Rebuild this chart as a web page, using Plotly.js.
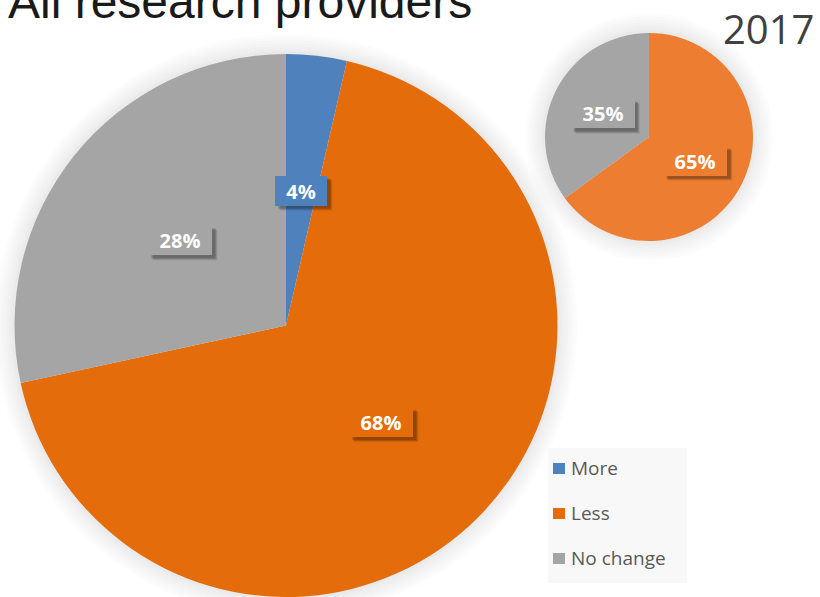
<!DOCTYPE html>
<html>
<head>
<meta charset="utf-8">
<script src="https://cdn.plot.ly/plotly-3.0.1.min.js"></script>
<style>html,body{margin:0;padding:0;background:#fff;}#chart{width:820px;height:597px;}</style>
</head>
<body>
<div id="chart"></div>
<script>
// ---- data ----
const chartTitle = "All research providers";
const insetTitle = "2017";
const allLabels = ["More", "Less", "No change"];
const allValues = [3.6, 68.0, 28.4];
const allColors = ["#4F81BD", "#E46C0A", "#A5A5A5"];
const insetLabels = ["Less", "No change"];
const insetValues = [65, 35];
const insetColors = ["#ED7D31", "#A5A5A5"];

// ---- geometry ----
const W = 820, H = 597;
const big = {x0: 14.5, x1: 557.5, y0: 54, y1: 597};
const small = {x0: 545, x1: 753, y0: 33, y1: 241};
function dom(b){ return {x:[b.x0/W, b.x1/W], y:[1-b.y1/H, 1-b.y0/H]}; }

const traces = [
  {type:'pie', labels:allLabels, values:allValues, marker:{colors:allColors, line:{width:0}},
   domain:dom(big), sort:false, direction:'clockwise', rotation:0, textinfo:'none',
   hoverinfo:'label+percent', showlegend:false},
  {type:'pie', labels:insetLabels, values:insetValues, marker:{colors:insetColors, line:{width:0}},
   domain:dom(small), sort:false, direction:'clockwise', rotation:0, textinfo:'none',
   hoverinfo:'label+percent', showlegend:false}
];

const annotations = [];
const shapes = [];
const BH = 30;
function glow(b){
  const cx = (b.x0+b.x1)/2, cy = (b.y0+b.y1)/2, R = Math.min(b.x1-b.x0, b.y1-b.y0)/2;
  [20,17,14,11,8,5,3].forEach(d=>{
    shapes.push({type:'circle', xref:'paper', yref:'paper', layer:'below',
      x0:(cx-R-d)/W, x1:(cx+R+d)/W, y0:1-(cy+R+d)/H, y1:1-(cy-R-d)/H,
      fillcolor:'rgba(0,0,0,0.012)', line:{width:0}});
  });
}
glow(big); glow(small);
function labelBoxes(b, values, colors, rf){
  const cx = (b.x0+b.x1)/2, cy = (b.y0+b.y1)/2, R = Math.min(b.x1-b.x0, b.y1-b.y0)/2;
  const tot = values.reduce((a,c)=>a+c,0);
  let acc = 0;
  values.forEach((v,i)=>{
    const mid = (acc + v/2)/tot*2*Math.PI; acc += v;
    const px = cx + rf*R*Math.sin(mid), py = cy - rf*R*Math.cos(mid);
    const txt = Math.round(v/tot*100) + '%';
    const BW = 28 + 12*txt.length;
    [[5,0.10],[4,0.14],[3,0.16]].forEach(([o,a])=>{
      shapes.push({type:'rect', xref:'paper', yref:'paper', layer:'above',
        x0:(px-BW/2+o)/W, x1:(px+BW/2+o)/W, y0:1-(py+BH/2+o)/H, y1:1-(py-BH/2+o)/H,
        fillcolor:'rgba(0,0,0,'+a+')', line:{width:0}});
    });
    annotations.push({xref:'paper', yref:'paper', x:px/W, y:1-py/H, text:txt, showarrow:false,
      xanchor:'center', yanchor:'middle', width:BW, height:BH, borderpad:0, borderwidth:0,
      bgcolor:colors[i],
      font:{family:'Open Sans, sans-serif', size:20, weight:'bold', color:'#ffffff'}});
  });
}
labelBoxes(big, allValues, allColors, 0.5);
labelBoxes(small, insetValues, insetColors, 0.5);

// titles
annotations.push({xref:'paper', yref:'paper', x:6/W, y:1-1/H, xanchor:'left', yanchor:'middle',
  text:chartTitle, showarrow:false, font:{family:'Liberation Sans, Arial, sans-serif', size:48, color:'#1a1a1a'}});
annotations.push({xref:'paper', yref:'paper', x:815/W, y:1, xanchor:'right', yanchor:'top', borderpad:0,
  text:insetTitle, showarrow:false, font:{family:'Open Sans, sans-serif', size:40, color:'#404040'}});

// legend
const lg = {x0:548, x1:687, y0:448, y1:583, top:469, step:45};
shapes.push({type:'rect', xref:'paper', yref:'paper', x0:lg.x0/W, x1:lg.x1/W, y0:1-lg.y1/H, y1:1-lg.y0/H,
  fillcolor:'#f8f8f8', line:{width:0}, layer:'below'});
allLabels.forEach((lab,i)=>{
  const yc = lg.top + i*lg.step;
  shapes.push({type:'rect', xref:'paper', yref:'paper', x0:553/W, x1:565/W, y0:1-(yc+5)/H, y1:1-(yc-6)/H,
    fillcolor:allColors[i], line:{width:0}});
  annotations.push({xref:'paper', yref:'paper', x:569/W, y:1-(yc-1)/H, xanchor:'left', yanchor:'middle',
    text:lab, showarrow:false, font:{family:'Open Sans, sans-serif', size:19, color:'#595959'}});
});

const layout = {width:W, height:H, margin:{l:0,r:0,t:0,b:0}, paper_bgcolor:'#ffffff',
  showlegend:false, annotations:annotations, shapes:shapes};
Plotly.newPlot('chart', traces, layout, {displayModeBar:false, staticPlot:true});
</script>
</body>
</html>
